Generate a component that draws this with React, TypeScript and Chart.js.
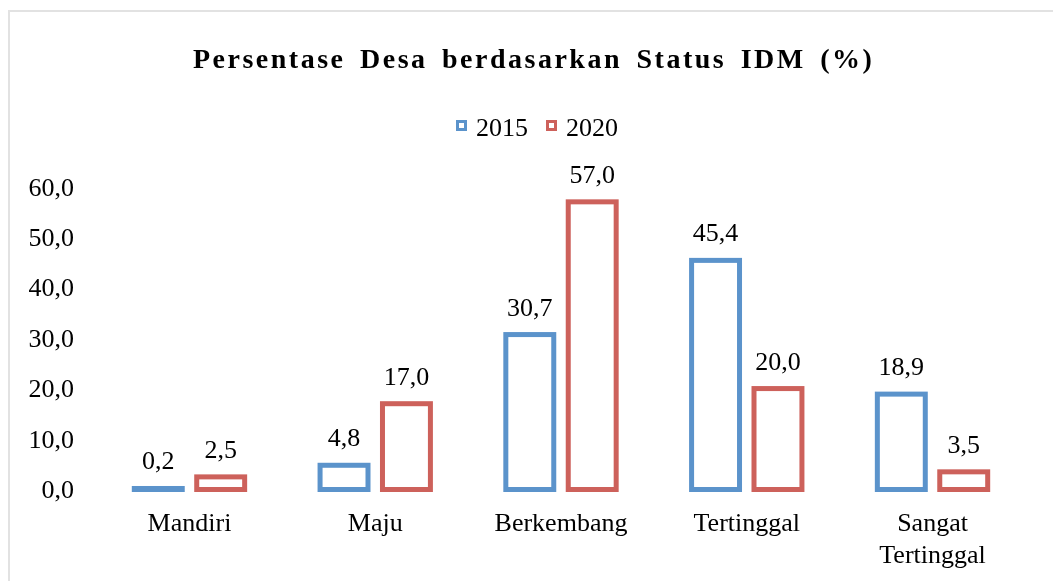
import React, { useEffect, useRef } from 'react';
import { Chart, registerables } from 'chart.js';

Chart.register(...registerables);

const chartTitle = 'Persentase Desa berdasarkan Status IDM (%)';
const categories: (string | string[])[] = ['Mandiri', 'Maju', 'Berkembang', 'Tertinggal', ['Sangat', 'Tertinggal']];
const seriesNames = ['2015', '2020'];
const values2015 = [0.2, 4.8, 30.7, 45.4, 18.9];
const values2020 = [2.5, 17.0, 57.0, 20.0, 3.5];
const yMin = 0;
const yMax = 60;
const yStep = 10;
const seriesColors = ['#5B93CB', '#CD615B'];

const FONT = "'Liberation Serif', 'Times New Roman', Times, serif";
const fmt = (v: number) => v.toFixed(1).replace('.', ',');

const hollowBars = {
  id: 'hollowBars',
  afterDatasetsDraw(chart: any) {
    const ctx = chart.ctx as CanvasRenderingContext2D;
    chart.data.datasets.forEach((ds: any, i: number) => {
      const meta = chart.getDatasetMeta(i);
      ctx.save();
      ctx.strokeStyle = ds.borderColor;
      ctx.lineWidth = 5;
      ctx.lineJoin = 'miter';
      meta.data.forEach((el: any, j: number) => {
        const { x, y, base, width } = el.getProps(['x', 'y', 'base', 'width'], true);
        ctx.strokeRect(x - width / 2, y, width, base - y);
        ctx.fillStyle = '#000';
        ctx.font = `26px ${FONT}`;
        ctx.textAlign = 'center';
        ctx.textBaseline = 'alphabetic';
        ctx.fillText(fmt(ds.data[j]), x, y - 19);
      });
      ctx.restore();
    });
  },
};

export default function App() {
  const canvasRef = useRef<HTMLCanvasElement | null>(null);

  useEffect(() => {
    if (!canvasRef.current) return;
    const chart = new Chart(canvasRef.current, {
      type: 'bar',
      data: {
        labels: categories,
        datasets: [
          {
            label: seriesNames[0],
            data: values2015,
            backgroundColor: 'rgba(0,0,0,0)',
            borderColor: seriesColors[0],
            borderWidth: 0,
            categoryPercentage: 0.672,
            barPercentage: 0.768,
          },
          {
            label: seriesNames[1],
            data: values2020,
            backgroundColor: 'rgba(0,0,0,0)',
            borderColor: seriesColors[1],
            borderWidth: 0,
            categoryPercentage: 0.672,
            barPercentage: 0.768,
          },
        ],
      },
      options: {
        responsive: false,
        animation: false,
        devicePixelRatio: 1,
        layout: { padding: { top: 186.7, right: 27.6, left: 0, bottom: 0 } },
        plugins: {
          legend: { display: false },
          title: { display: false },
          tooltip: { enabled: false },
        },
        scales: {
          x: {
            grid: { display: false, drawTicks: false },
            border: { display: false },
            ticks: {
              color: '#000',
              font: { family: FONT, size: 26 },
              padding: 19.5,
              maxRotation: 0,
              autoSkip: false,
            },
            afterFit: (s: any) => {
              s.height = 91.5;
            },
          },
          y: {
            min: yMin,
            max: yMax,
            grid: { display: false, drawTicks: false },
            border: { display: false },
            ticks: {
              stepSize: yStep,
              color: '#000',
              font: { family: FONT, size: 26 },
              padding: 22.6,
              labelOffset: 2,
              callback: (v: any) => fmt(Number(v)),
            },
            afterFit: (s: any) => {
              s.width = 96.6;
            },
          },
        },
      },
      plugins: [hollowBars],
    });
    return () => chart.destroy();
  }, []);

  return (
    <div style={{ position: 'fixed', left: 0, top: 0, width: 1053, height: 581, overflow: 'hidden', background: '#fff' }}>
      <div
        style={{
          position: 'absolute',
          left: 8,
          top: 10,
          width: 1200,
          height: 800,
          border: '2px solid #e2e2e2',
          boxSizing: 'border-box',
        }}
      />
      <canvas ref={canvasRef} width={1053} height={581} style={{ position: 'absolute', left: 0, top: 0, display: 'block' }} />
      <div
        style={{
          position: 'absolute',
          left: 193,
          top: 43.5,
          fontFamily: FONT,
          fontWeight: 'bold',
          fontSize: 28,
          lineHeight: '30px',
          letterSpacing: '2.5px',
          wordSpacing: '5px',
          whiteSpace: 'nowrap',
          color: '#000',
        }}
      >
        {chartTitle}
      </div>
      <div
        style={{
          position: 'absolute',
          left: 456,
          top: 113.2,
          display: 'flex',
          alignItems: 'center',
          fontFamily: FONT,
          fontSize: 26,
          lineHeight: '30px',
          color: '#000',
          whiteSpace: 'nowrap',
        }}
      >
        {seriesNames.map((name, i) => (
          <div key={name} style={{ display: 'flex', alignItems: 'center', marginRight: i === 0 ? 18 : 0 }}>
            <span
              style={{
                display: 'inline-block',
                width: 11,
                height: 11,
                boxSizing: 'border-box',
                border: `3.5px solid ${seriesColors[i]}`,
                position: 'relative',
                top: -3,
                marginRight: 9,
              }}
            />
            <span>{name}</span>
          </div>
        ))}
      </div>
    </div>
  );
}
